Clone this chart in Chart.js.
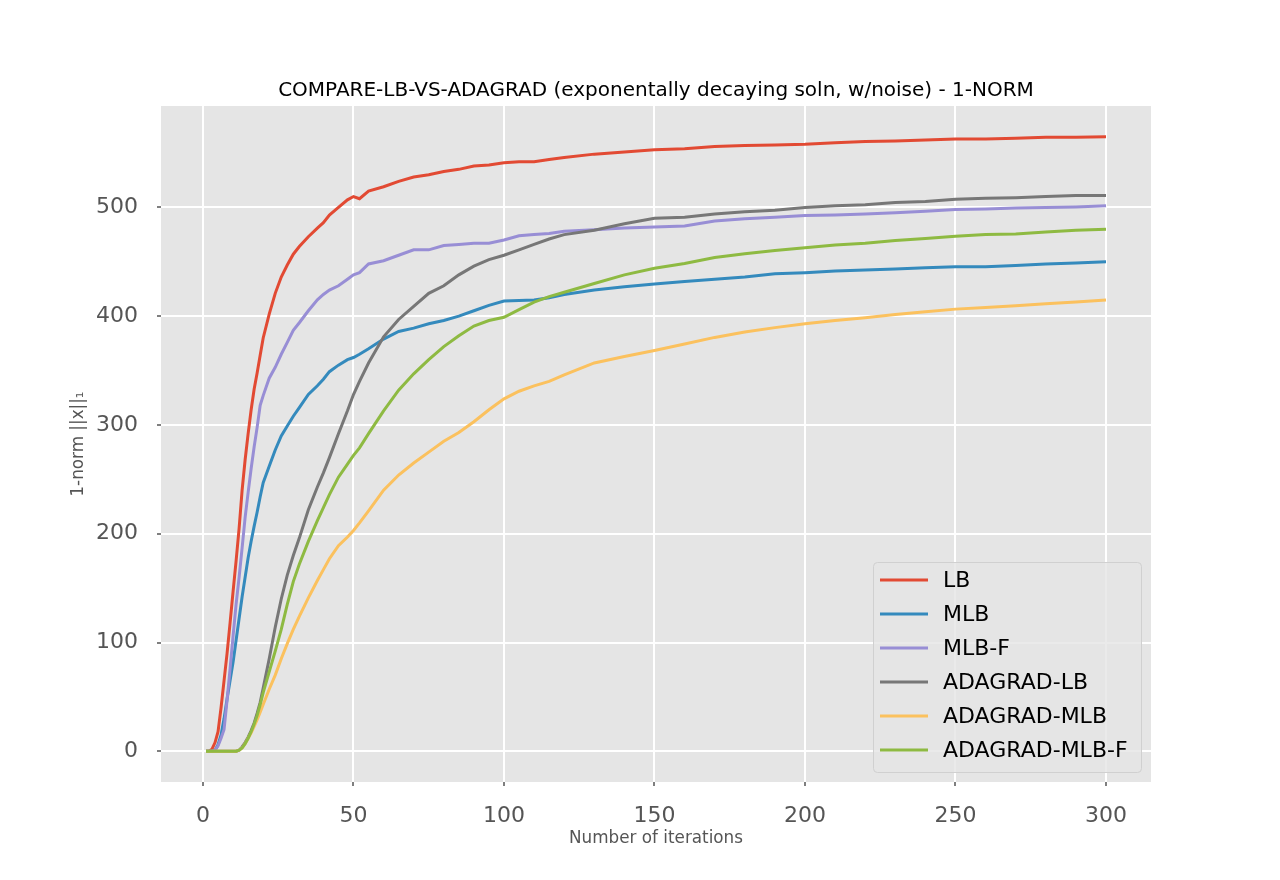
<!DOCTYPE html>
<html>
<head>
<meta charset="utf-8">
<script src="https://cdn.jsdelivr.net/npm/chart.js@4.4.1/dist/chart.umd.min.js"></script>
<style>
  html, body { margin: 0; padding: 0; background: #fff; }
  #wrap { width: 1280px; height: 880px; }
</style>
</head>
<body>
<div id="wrap"><canvas id="myChart" width="1280" height="880"></canvas></div>
<script>
// iteration numbers the values were read at
const iterations = [1,2,3,4,5,6,7,8,9,10,11,12,13,14,15,16,17,18,19,20,
  22,24,26,28,30,32,35,38,40,42,45,48,50,52,55,
  60,65,70,75,80,85,90,95,100,105,110,115,120,
  130,140,150,160,170,180,190,200,210,220,230,240,250,260,270,280,290,300];

const lb = [0,0,2,8,18,40,65,90,118,147,175,205,240,268,292,314,333,348,364,380,
  402,421,436,447,457,464,473,481,486,493,500,507,510,508,515,
  519,524,528,530,533,535,538,539,541,542,542,544,546,
  549,551,553,554,556,557,557.5,558,559.5,560.5,561,562,563,563,563.5,564.5,564.5,565];

const mlb = [0,0,0,1,6,15,30,48,65,82,102,122,142,160,178,193,207,220,234,247,
  262,277,290,299,308,316,328,336,342,349,355,360,362,365,370,
  379,386,389,393,396,400,405,410,414,414.5,415,417,420,
  424,427,429.5,432,434,436,439,440,441.5,442.5,443.5,444.5,445.5,445.5,446.5,448,449,450];

const mlbF = [0,0,0,1,5,12,20,47,76,106,135,160,187,215,238,260,280,298,318,327,
  343,353,365,376,387,394,405,415,420,424,428,434,438,440,448,
  451,456,461,461,465,466,467,467,470,474,475,476,478,
  479.5,481,482,483,487.5,489.5,491,492.5,493,494,495,496.5,498,498.5,499.5,500,500.5,501.5];

const adagradLb = [0,0,0,0,0,0,0,0,0,0,0,1,4,8,13,19,26,35,45,58,
  85,114,140,162,180,196,222,243,256,270,292,313,328,340,357,
  381,397,409,421,428,438,446,452,456,461,466,471,475,
  479,485,490,491,494,496,497.5,500,501.5,502.5,504.5,505.5,507.5,508.5,509,510,511,511];

const adagradMlb = [0,0,0,0,0,0,0,0,0,0,0,1,3,7,12,17,23,29,36,43,
  57,70,85,99,112,124,141,157,167,177,189,197,203,210,221,
  240,254,265,275,285,293,303,314,324,331,336,340,346,
  357,363,368.5,374.5,380.5,385.5,389.5,393,396,398.5,401.5,404,406.5,408,409.5,411.5,413,415];

const adagradMlbF = [0,0,0,0,0,0,0,0,0,0,0,1,3,7,12,18,25,33,43,54,
  73,92,112,135,156,172,193,212,224,236,252,264,272,279,292,
  313,332,347,360,372,382,391,396,399,406,413,418,422,
  430,438,444,448.5,454,457.5,460.5,463,465.5,467,469.5,471.5,473.5,475,475.5,477.5,479,480];

const xTicks = [0, 50, 100, 150, 200, 250, 300];
const yTicks = [0, 100, 200, 300, 400, 500];

const seriesNames = ['LB', 'MLB', 'MLB-F', 'ADAGRAD-LB', 'ADAGRAD-MLB', 'ADAGRAD-MLB-F'];
const seriesValues = [lb, mlb, mlbF, adagradLb, adagradMlb, adagradMlbF];
const seriesColors = ['#E24A33', '#348ABD', '#988ED5', '#777777', '#FBC15E', '#8EBA42'];

const FONT = '"DejaVu Sans", "Liberation Sans", sans-serif';

const panelBackground = {
    id: 'panelBackground',
    beforeDraw(chart) {
        const {ctx, chartArea: a} = chart;
        ctx.save();
        ctx.fillStyle = '#E5E5E5';
        ctx.fillRect(a.left, a.top, a.right - a.left, a.bottom - a.top);
        ctx.restore();
    }
};

const plotTitle = {
    id: 'plotTitle',
    afterDraw(chart) {
        const {ctx, chartArea: a} = chart;
        ctx.save();
        ctx.fillStyle = '#000';
        ctx.font = '20px ' + FONT;
        ctx.textAlign = 'center';
        ctx.textBaseline = 'middle';
        ctx.fillText('COMPARE-LB-VS-ADAGRAD (exponentally decaying soln, w/noise) - 1-NORM', (a.left + a.right) / 2, a.top - 15);
        ctx.restore();
    }
};

// legend box in the lower right corner, inside the panel
const boxLegend = {
    id: 'boxLegend',
    afterDatasetsDraw(chart) {
        const {ctx, chartArea: a} = chart;
        const w = 268, h = 210;
        const x0 = a.right - 10 - w, y0 = a.bottom - 10 - h;
        ctx.save();
        ctx.beginPath();
        ctx.roundRect(x0 + 0.5, y0 + 0.5, w, h, 4);
        ctx.fillStyle = 'rgba(229,229,229,0.8)';
        ctx.fill();
        ctx.strokeStyle = '#d0d0d0';
        ctx.lineWidth = 1;
        ctx.stroke();
        ctx.font = '22px ' + FONT;
        ctx.textBaseline = 'middle';
        ctx.textAlign = 'left';
        chart.data.datasets.forEach((ds, i) => {
            const y = y0 + 18 + i * 34;
            ctx.strokeStyle = ds.borderColor;
            ctx.lineWidth = 3;
            ctx.beginPath();
            ctx.moveTo(x0 + 7, y);
            ctx.lineTo(x0 + 55, y);
            ctx.stroke();
            ctx.fillStyle = '#000';
            ctx.fillText(ds.label, x0 + 70, y + 1);
        });
        ctx.restore();
    }
};

const datasets = seriesNames.map((name, i) => ({
    label: name,
    data: iterations.map((it, k) => ({x: it, y: seriesValues[i][k]})),
    borderColor: seriesColors[i],
    backgroundColor: seriesColors[i],
    borderWidth: 3,
    pointRadius: 0,
    tension: 0,
    fill: false,
    order: seriesNames.length - i
}));

new Chart(document.getElementById('myChart'), {
    type: 'line',
    data: {datasets},
    plugins: [panelBackground, boxLegend, plotTitle],
    options: {
        responsive: false,
        animation: false,
        devicePixelRatio: 1,
        layout: {padding: {left: 0, right: 129, top: 106, bottom: 0}},
        plugins: {
            legend: {display: false},
            title: {display: false},
            tooltip: {enabled: false}
        },
        scales: {
            x: {
                type: 'linear',
                min: -13.95,
                max: 314.95,
                afterBuildTicks: (scale) => { scale.ticks = xTicks.map(v => ({value: v})); },
                afterFit: (scale) => { scale.height = 98; },
                grid: {color: '#ffffff', lineWidth: 2, tickColor: '#555555', tickLength: 4, tickWidth: 1.5},
                border: {display: false},
                ticks: {color: '#555555', font: {family: FONT, size: 22}, padding: 17, maxRotation: 0},
                title: {display: true, text: 'Number of iterations', color: '#555555',
                    font: {family: FONT, size: 16.8}, padding: {top: 0, bottom: 31.5}}
            },
            y: {
                type: 'linear',
                min: -28.25,
                max: 593.25,
                afterBuildTicks: (scale) => { scale.ticks = yTicks.map(v => ({value: v})); },
                afterFit: (scale) => { scale.width = 161; },
                grid: {color: '#ffffff', lineWidth: 2, tickColor: '#555555', tickLength: 4, tickWidth: 1.5},
                border: {display: false},
                ticks: {color: '#555555', font: {family: FONT, size: 22}, padding: 19},
                title: {display: true, text: '1-norm ||x||\u2081', color: '#555555',
                    font: {family: FONT, size: 16.8}, padding: {top: 69, bottom: 0}}
            }
        }
    }
});
</script>
</body>
</html>
